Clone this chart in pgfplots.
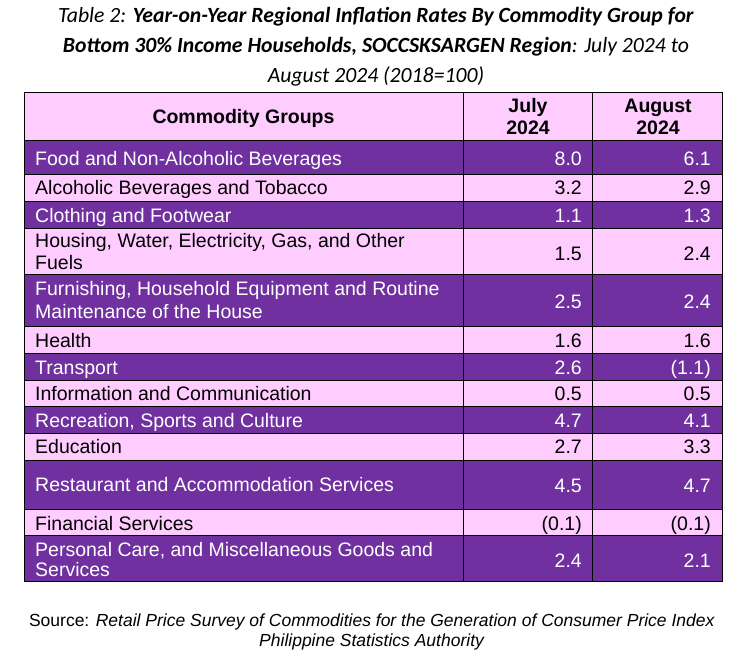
\documentclass[border=0pt]{standalone}
\usepackage{pgfplots}
\pgfplotsset{compat=1.18}
\usepackage{pgfplotstable}
\usepackage{fontspec}
\setmainfont{Liberation Sans}
\newfontfamily\calibri{Carlito}
\definecolor{pur}{HTML}{7030A0}
\definecolor{pnk}{HTML}{FFCCFF}

% row labels on purple rows (white text): x, baseline y, label
\pgfplotstableread[col sep=semicolon]{
x;y;label
35;165;Food and Non-Alcoholic Beverages
35;222;Clothing and Footwear
35;295;Furnishing, Household Equipment and Routine
35;318;Maintenance of the House
35;374;Transport
35;427;Recreation, Sports and Culture
35;491;Restaurant and Accommodation Services
35;556;Personal Care, and Miscellaneous Goods and
35;576;Services
}\whitelabels

% row labels on pink rows (black text)
\pgfplotstableread[col sep=semicolon]{
x;y;label
35;194;Alcoholic Beverages and Tobacco
35;247;Housing, Water, Electricity, Gas, and Other
35;269;Fuels
35;347;Health
35;400;Information and Communication
35;453;Education
35;530;Financial Services
}\blacklabels

% values on purple rows: July (x=582) and August (x=711)
\pgfplotstableread[col sep=semicolon]{
x;y;label
582;165;8.0
711;165;6.1
582;222;1.1
711;222;1.3
582;308;2.5
711;308;2.4
582;374;2.6
711;374;(1.1)
582;427;4.7
711;427;4.1
582;492;4.5
711;492;4.7
582;567;2.4
711;567;2.1
}\whitevalues

% values on pink rows
\pgfplotstableread[col sep=semicolon]{
x;y;label
582;194;3.2
711;194;2.9
582;260;1.5
711;260;2.4
582;347;1.6
711;347;1.6
582;400;0.5
711;400;0.5
582;453;2.7
711;453;3.3
582;530;(0.1)
711;530;(0.1)
}\blackvalues

\begin{document}
\begin{tikzpicture}
\begin{axis}[
  width=743pt, height=666pt, scale only axis,
  xmin=0, xmax=743, ymin=0, ymax=666, y dir=reverse,
  axis lines=none, clip=false,
  every node near coord/.append style={inner sep=0pt, font=\fontsize{19.5}{23}\selectfont},
]
% invisible frame fixing the picture size
\addplot[draw=none, forget plot] coordinates {(0,0) (743,666)};
% row backgrounds
\addplot[fill=pnk, draw=black, line width=1pt] coordinates {(24,93) (722,93) (722,140) (24,140)} -- cycle;
\addplot[fill=pur, draw=black, line width=1pt] coordinates {(24,140) (722,140) (722,174) (24,174)} -- cycle;
\addplot[fill=pnk, draw=black, line width=1pt] coordinates {(24,174) (722,174) (722,201) (24,201)} -- cycle;
\addplot[fill=pur, draw=black, line width=1pt] coordinates {(24,201) (722,201) (722,228) (24,228)} -- cycle;
\addplot[fill=pnk, draw=black, line width=1pt] coordinates {(24,228) (722,228) (722,274) (24,274)} -- cycle;
\addplot[fill=pur, draw=black, line width=1pt] coordinates {(24,274) (722,274) (722,326) (24,326)} -- cycle;
\addplot[fill=pnk, draw=black, line width=1pt] coordinates {(24,326) (722,326) (722,353) (24,353)} -- cycle;
\addplot[fill=pur, draw=black, line width=1pt] coordinates {(24,353) (722,353) (722,380) (24,380)} -- cycle;
\addplot[fill=pnk, draw=black, line width=1pt] coordinates {(24,380) (722,380) (722,406) (24,406)} -- cycle;
\addplot[fill=pur, draw=black, line width=1pt] coordinates {(24,406) (722,406) (722,433) (24,433)} -- cycle;
\addplot[fill=pnk, draw=black, line width=1pt] coordinates {(24,433) (722,433) (722,460) (24,460)} -- cycle;
\addplot[fill=pur, draw=black, line width=1pt] coordinates {(24,460) (722,460) (722,509) (24,509)} -- cycle;
\addplot[fill=pnk, draw=black, line width=1pt] coordinates {(24,509) (722,509) (722,535) (24,535)} -- cycle;
\addplot[fill=pur, draw=black, line width=1pt] coordinates {(24,535) (722,535) (722,581) (24,581)} -- cycle;
% column separators
\addplot[black, line width=1pt] coordinates {(463,93) (463,581)};
\addplot[black, line width=1pt] coordinates {(592,93) (592,581)};

% labels
\addplot[only marks, mark=none, nodes near coords, point meta=explicit symbolic,
  every node near coord/.append style={anchor=base west, text=white}]
  table[x=x, y=y, meta=label] {\whitelabels};
\addplot[only marks, mark=none, nodes near coords, point meta=explicit symbolic,
  every node near coord/.append style={anchor=base west, text=black}]
  table[x=x, y=y, meta=label] {\blacklabels};
\addplot[only marks, mark=none, nodes near coords, point meta=explicit symbolic,
  every node near coord/.append style={anchor=base east, text=white}]
  table[x=x, y=y, meta=label] {\whitevalues};
\addplot[only marks, mark=none, nodes near coords, point meta=explicit symbolic,
  every node near coord/.append style={anchor=base east, text=black}]
  table[x=x, y=y, meta=label] {\blackvalues};

% header
\node[anchor=base, inner sep=0pt, font=\fontsize{19.5}{23}\selectfont\bfseries] at (axis cs:243.5,123) {Commodity Groups};
\node[anchor=base, inner sep=0pt, font=\fontsize{19.5}{23}\selectfont\bfseries] at (axis cs:528,112) {July};
\node[anchor=base, inner sep=0pt, font=\fontsize{19.5}{23}\selectfont\bfseries] at (axis cs:528,134) {2024};
\node[anchor=base, inner sep=0pt, font=\fontsize{19.5}{23}\selectfont\bfseries] at (axis cs:658,112) {August};
\node[anchor=base, inner sep=0pt, font=\fontsize{19.5}{23}\selectfont\bfseries] at (axis cs:658,134) {2024};

% title
\node[anchor=base, inner sep=0pt, font=\calibri\fontsize{21.7}{30}\selectfont] at (axis cs:376,23)
  {\textit{Table 2: }\textbf{\textit{Year-on-Year Regional Inflation Rates By Commodity Group for}}};
\node[anchor=base, inner sep=0pt, font=\calibri\fontsize{21.7}{30}\selectfont] at (axis cs:376,53)
  {\textbf{\textit{Bottom 30\% Income Households, SOCCSKSARGEN Region}}\textit{: July 2024 to}};
\node[anchor=base, inner sep=0pt, font=\calibri\fontsize{21.7}{30}\selectfont] at (axis cs:376,83)
  {\textit{August 2024 (2018=100)}};

% source
\node[anchor=base, inner sep=0pt, font=\fontsize{17.5}{21}\selectfont] at (axis cs:372,626)
  {Source: \textit{Retail Price Survey of Commodities for the Generation of Consumer Price Index}};
\node[anchor=base, inner sep=0pt, font=\fontsize{17.5}{21}\selectfont] at (axis cs:372,646)
  {\textit{Philippine Statistics Authority}};
\end{axis}
\end{tikzpicture}
\end{document}
